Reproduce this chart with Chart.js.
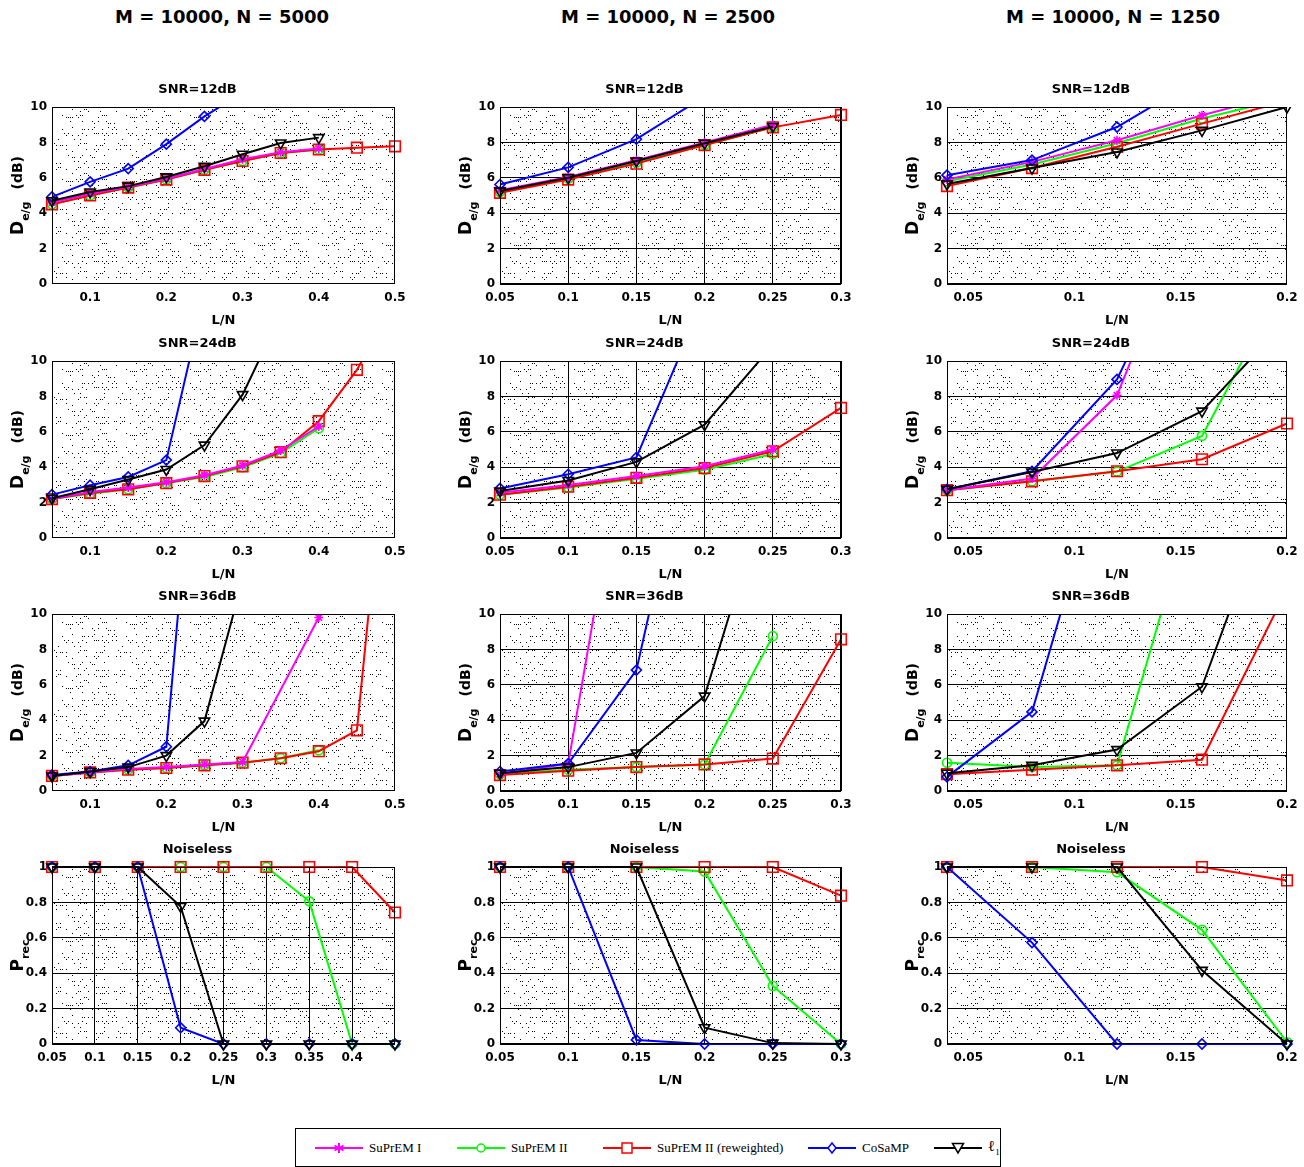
<!DOCTYPE html>
<html>
<head>
<meta charset="utf-8">
<script src="https://cdn.jsdelivr.net/npm/chart.js@4.4.0/dist/chart.umd.min.js"></script>
<style>
html, body { margin: 0; padding: 0; background: #fff; width: 1304px; height: 1167px; overflow: hidden; position: relative; }
canvas { position: absolute; }
.coltitle { position: absolute; top: 6px; width: 400px; text-align: center; font: bold 18px 'DejaVu Sans', sans-serif; line-height: 22px; }
#legend { position: absolute; left: 295px; top: 1128px; width: 704px; height: 37px; border: 1px solid #000; background: #fff; font: 13px 'Liberation Serif', serif; }
#legend .it { position: absolute; top: 0; height: 37px; display: flex; align-items: center; white-space: nowrap; }
#legend svg { margin-right: 6px; }
</style>
</head>
<body>
<div class="coltitle" style="left:22px">M = 10000, N = 5000</div>
<div class="coltitle" style="left:468px">M = 10000, N = 2500</div>
<div class="coltitle" style="left:913px">M = 10000, N = 1250</div>

<div id="legend">
  <div class="it" style="left:19px">
    <svg width="48" height="14"><line x1="0" y1="7" x2="48" y2="7" stroke="#ff00ff" stroke-width="2"/><path d="M24 2V12M19.5 4.5L28.5 9.5M19.5 9.5L28.5 4.5" stroke="#ff00ff" stroke-width="2"/></svg>
    <span>SuPrEM I</span></div>
  <div class="it" style="left:161px">
    <svg width="48" height="14"><line x1="0" y1="7" x2="48" y2="7" stroke="#00ff00" stroke-width="2"/><circle cx="24" cy="7" r="4" fill="#fff" stroke="#00ff00" stroke-width="1.5"/></svg>
    <span>SuPrEM II</span></div>
  <div class="it" style="left:307px">
    <svg width="48" height="14"><line x1="0" y1="7" x2="48" y2="7" stroke="#ff0000" stroke-width="2"/><rect x="19" y="2" width="10" height="10" fill="#fff" stroke="#ff0000" stroke-width="1.5"/></svg>
    <span>SuPrEM II (reweighted)</span></div>
  <div class="it" style="left:512px">
    <svg width="48" height="14"><line x1="0" y1="7" x2="48" y2="7" stroke="#0000ff" stroke-width="2"/><path d="M24 2L28 7L24 12L20 7Z" fill="#fff" stroke="#0000ff" stroke-width="1.5"/></svg>
    <span>CoSaMP</span></div>
  <div class="it" style="left:638px">
    <svg width="48" height="14"><line x1="0" y1="7" x2="48" y2="7" stroke="#000" stroke-width="2"/><path d="M18.5 2.5L29.5 2.5L24 12Z" fill="#fff" stroke="#000" stroke-width="1.5"/></svg>
    <span style="font-size:15px">&#8467;<sub style="font-size:9px">1</sub></span></div>
</div>

<script>
// x positions (L/N) for each column
const xCol1 = [0.05, 0.1, 0.15, 0.2, 0.25, 0.3, 0.35, 0.4, 0.45, 0.5];
const xCol1Noiseless = [0.05, 0.1, 0.15, 0.2, 0.25, 0.3, 0.35, 0.4, 0.45];
const xCol2 = [0.05, 0.1, 0.15, 0.2, 0.25, 0.3];
const xCol3 = [0.04, 0.08, 0.12, 0.16, 0.2];

// tick labels
const xTicksCol1 = [0.1, 0.2, 0.3, 0.4, 0.5];
const xTicksCol1Noiseless = [0.05, 0.1, 0.15, 0.2, 0.25, 0.3, 0.35, 0.4];
const xTicksCol2 = [0.05, 0.1, 0.15, 0.2, 0.25, 0.3];
const xTicksCol3 = [0.05, 0.1, 0.15, 0.2];
const yTicksDeg = [0, 2, 4, 6, 8, 10];
const yTicksPrec = [0, 0.2, 0.4, 0.6, 0.8, 1];

// N = 5000
const n5000_snr12 = {
  sup1:   [4.6, 5.1, 5.5, 5.95, 6.5, 7.05, 7.45, 7.65, null, null],
  sup2:   [4.5, 5.0, 5.45, 5.9, 6.45, 6.95, 7.4, 7.6, null, null],
  rw:     [4.5, 5.0, 5.45, 5.9, 6.45, 6.95, 7.4, 7.6, 7.7, 7.78],
  cosamp: [4.92, 5.77, 6.52, 7.9, 9.47, 10.8, null, null, null, null],
  l1:     [4.7, 5.2, 5.53, 6.05, 6.65, 7.33, 7.97, 8.27, null, null]
};
const n5000_snr24 = {
  sup1:   [2.2, 2.6, 2.85, 3.15, 3.55, 4.1, 4.95, 6.3, null, null],
  sup2:   [2.2, 2.5, 2.75, 3.1, 3.45, 4.0, 4.8, 6.2, null, null],
  rw:     [2.2, 2.55, 2.75, 3.1, 3.5, 4.05, 4.85, 6.6, 9.5, 13.3],
  cosamp: [2.45, 2.98, 3.45, 4.4, 13.7, null, null, null, null, null],
  l1:     [2.25, 2.75, 3.3, 3.87, 5.25, 8.1, 12.6, null, null, null]
};
const n5000_snr36 = {
  sup1:   [0.85, 1.05, 1.25, 1.35, 1.5, 1.64, null, 9.8, null, null],
  sup2:   [0.85, 1.05, 1.2, 1.3, 1.45, 1.6, 1.85, 2.3, null, null],
  rw:     [0.85, 1.05, 1.2, 1.3, 1.45, 1.6, 1.85, 2.25, 3.43, 25],
  cosamp: [0.9, 1.1, 1.45, 2.5, 27, null, null, null, null, null],
  l1:     [0.85, 1.1, 1.35, 2.0, 3.95, 11.9, null, null, null, null]
};
const n5000_noiseless = {
  sup1:   [],
  sup2:   [1, 1, 1, 1, 1, 1, 0.806, 0, 0],
  rw:     [1, 1, 1, 1, 1, 1, 1, 1, 0.743],
  cosamp: [1, 1, 1, 0.092, 0, 0, 0, 0, 0],
  l1:     [1, 1, 1, 0.777, 0, 0, 0, 0, 0]
};

// N = 2500
const n2500_snr12 = {
  sup1:   [5.3, 6.05, 7.0, 8.0, 9.0, null],
  sup2:   [5.2, 5.95, 6.85, 7.85, 8.85, null],
  rw:     [5.15, 5.9, 6.8, 7.85, 8.85, 9.55],
  cosamp: [5.62, 6.59, 8.18, 10.6, null, null],
  l1:     [5.25, 6.0, 6.95, 7.95, 8.9, null]
};
const n2500_snr24 = {
  sup1:   [2.55, 3.0, 3.5, 4.05, 5.0, null],
  sup2:   [2.45, 2.85, 3.35, 3.85, 4.75, null],
  rw:     [2.45, 2.9, 3.4, 3.95, 4.9, 7.35],
  cosamp: [2.8, 3.6, 4.55, 13.6, null, null],
  l1:     [2.65, 3.25, 4.3, 6.4, 10.9, null]
};
const n2500_snr36 = {
  sup1:   [0.95, 1.55, 23.8, null, null, null],
  sup2:   [0.95, 1.2, 1.35, 1.5, 8.75, null],
  rw:     [0.9, 1.15, 1.35, 1.5, 1.83, 8.57],
  cosamp: [1.1, 1.55, 6.83, 24, null, null],
  l1:     [1.0, 1.35, 2.15, 5.36, 18, null]
};
const n2500_noiseless = {
  sup1:   [],
  sup2:   [1, 1, 1, 0.975, 0.328, 0],
  rw:     [1, 1, 1, 1, 1, 0.838],
  cosamp: [1, 1, 0.023, 0, 0, 0],
  l1:     [1, 1, 1, 0.092, 0.005, 0]
};

// N = 1250
const n1250_snr12 = {
  sup1:   [5.9, 6.9, 8.12, 9.53, 10.8],
  sup2:   [5.8, 6.75, 7.95, 9.35, 10.5],
  rw:     [5.53, 6.55, 7.75, 9.06, 10.35],
  cosamp: [6.15, 7.0, 8.87, 11.7, null],
  l1:     [5.65, 6.55, 7.46, 8.68, 10.0]
};
const n1250_snr24 = {
  sup1:   [2.7, 3.36, 8.06, 20, null],
  sup2:   [2.7, 3.2, 3.75, 5.77, 14.7],
  rw:     [2.7, 3.2, 3.77, 4.45, 6.47],
  cosamp: [2.75, 3.77, 8.96, 19, null],
  l1:     [2.75, 3.73, 4.8, 7.17, 12.3]
};
const n1250_snr36 = {
  sup1:   [],
  sup2:   [1.6, 1.35, 1.45, 18, null],
  rw:     [0.95, 1.2, 1.45, 1.77, 11.4],
  cosamp: [0.8, 4.47, 21, null, null],
  l1:     [1.0, 1.45, 2.34, 5.89, 19]
};
const n1250_noiseless = {
  sup1:   [],
  sup2:   [1, 1, 0.97, 0.645, 0.01],
  rw:     [1, 1, 1, 1, 0.924],
  cosamp: [1, 0.573, 0, 0, 0],
  l1:     [1, 1, 1, 0.416, 0]
};

const series = [
  { key: 'sup1',   label: 'SuPrEM I',               color: '#ff00ff', style: 'star',     r: 4.5, rot: 0,   order: 3 },
  { key: 'sup2',   label: 'SuPrEM II',              color: '#00ff00', style: 'circle',   r: 4.5, rot: 0,   order: 5 },
  { key: 'rw',     label: 'SuPrEM II (reweighted)', color: '#ff0000', style: 'rect',     r: 7.5, rot: 0,   order: 4 },
  { key: 'cosamp', label: 'CoSaMP',                 color: '#0000ff', style: 'rectRot',  r: 5,   rot: 0,   order: 2 },
  { key: 'l1',     label: '\u2113\u2081',           color: '#000000', style: 'triangle', r: 6,   rot: 180, order: 1 }
];

const FONT = "'DejaVu Sans', sans-serif";

// stippled background tile, like the dotted axes of the original
const tile = document.createElement('canvas');
tile.width = 64; tile.height = 64;
(function () {
  const g = tile.getContext('2d');
  g.fillStyle = '#fff';
  g.fillRect(0, 0, 64, 64);
  g.fillStyle = '#000';
  let s = 7;
  const next = () => (s = (s * 1103515245 + 12345) % 2147483648) / 2147483648;
  for (let y = 2; y < 64; y += 6) {
    for (let x = 0; x < 64; x += 2) {
      if (next() < 0.33) g.fillRect(x, y + (next() < 0.5 ? 0 : 2), 1, 1);
    }
  }
})();

const framePlugin = {
  id: 'frame',
  beforeDraw(chart) {
    const { ctx, chartArea: a } = chart;
    ctx.save();
    ctx.fillStyle = ctx.createPattern(tile, 'repeat');
    ctx.fillRect(a.left, a.top, a.width, a.height);
    ctx.restore();
  },
  afterDraw(chart, args, opts) {
    const { ctx, chartArea: a } = chart;
    ctx.save();
    ctx.strokeStyle = '#000';
    ctx.lineWidth = 1;
    ctx.strokeRect(Math.round(a.left) + 0.5, Math.round(a.top) + 0.5, Math.round(a.width) - 1, Math.round(a.height) - 1);

    // y label with subscript
    const cy = (a.top + a.bottom) / 2;
    ctx.translate(a.left - 35, cy);
    ctx.rotate(-Math.PI / 2);
    ctx.fillStyle = '#000';
    ctx.textBaseline = 'alphabetic';
    ctx.textAlign = 'left';
    const mainFont = 'bold 17px ' + FONT, subFont = 'bold 11px ' + FONT, unitFont = 'bold 14px ' + FONT;
    ctx.font = mainFont; const wm = ctx.measureText(opts.main).width;
    ctx.font = subFont; const ws = ctx.measureText(opts.sub).width;
    ctx.font = unitFont; const wu = opts.unit ? ctx.measureText(opts.unit).width : 0;
    const gap = opts.unit ? 12 : 0;
    let x = -(wm + ws + gap + wu) / 2;
    ctx.font = mainFont; ctx.fillText(opts.main, x, 6); x += wm;
    ctx.font = subFont; ctx.fillText(opts.sub, x, 12); x += ws + gap;
    if (opts.unit) { ctx.font = unitFont; ctx.fillText(opts.unit, x, 5); }
    ctx.restore();
  }
};

const plotLeft = [52, 500, 947];
const plotWidth = [343, 341, 340];
const plotTop = [107, 361, 614, 867];
const plotHeight = 177;

const panels = [
  { row: 0, col: 0, title: 'SNR=12dB',  xs: xCol1, xMin: 0.05, xMax: 0.5,  xTicks: xTicksCol1, vals: n5000_snr12, gx: false, gy: false },
  { row: 0, col: 1, title: 'SNR=12dB',  xs: xCol2, xMin: 0.05, xMax: 0.3,  xTicks: xTicksCol2, vals: n2500_snr12, gx: true,  gy: true },
  { row: 0, col: 2, title: 'SNR=12dB',  xs: xCol3, xMin: 0.04, xMax: 0.2,  xTicks: xTicksCol3, vals: n1250_snr12, gx: false, gy: true },
  { row: 1, col: 0, title: 'SNR=24dB',  xs: xCol1, xMin: 0.05, xMax: 0.5,  xTicks: xTicksCol1, vals: n5000_snr24, gx: false, gy: false },
  { row: 1, col: 1, title: 'SNR=24dB',  xs: xCol2, xMin: 0.05, xMax: 0.3,  xTicks: xTicksCol2, vals: n2500_snr24, gx: true,  gy: true },
  { row: 1, col: 2, title: 'SNR=24dB',  xs: xCol3, xMin: 0.04, xMax: 0.2,  xTicks: xTicksCol3, vals: n1250_snr24, gx: false, gy: true },
  { row: 2, col: 0, title: 'SNR=36dB',  xs: xCol1, xMin: 0.05, xMax: 0.5,  xTicks: xTicksCol1, vals: n5000_snr36, gx: false, gy: false },
  { row: 2, col: 1, title: 'SNR=36dB',  xs: xCol2, xMin: 0.05, xMax: 0.3,  xTicks: xTicksCol2, vals: n2500_snr36, gx: true,  gy: true },
  { row: 2, col: 2, title: 'SNR=36dB',  xs: xCol3, xMin: 0.04, xMax: 0.2,  xTicks: xTicksCol3, vals: n1250_snr36, gx: false, gy: true },
  { row: 3, col: 0, title: 'Noiseless', xs: xCol1Noiseless, xMin: 0.05, xMax: 0.45, xTicks: xTicksCol1Noiseless, vals: n5000_noiseless, gx: true, gy: true },
  { row: 3, col: 1, title: 'Noiseless', xs: xCol2, xMin: 0.05, xMax: 0.3,  xTicks: xTicksCol2, vals: n2500_noiseless, gx: true,  gy: true },
  { row: 3, col: 2, title: 'Noiseless', xs: xCol3, xMin: 0.04, xMax: 0.2,  xTicks: xTicksCol3, vals: n1250_noiseless, gx: false, gy: true }
];

panels.forEach(p => {
  const prec = p.row === 3;
  const canvas = document.createElement('canvas');
  const w = plotWidth[p.col] + 104, h = 30 + plotHeight + 46;
  canvas.width = w; canvas.height = h;
  canvas.style.left = (plotLeft[p.col] - 52) + 'px';
  canvas.style.top = (plotTop[p.row] - 30) + 'px';
  canvas.style.width = w + 'px'; canvas.style.height = h + 'px';
  document.body.appendChild(canvas);

  const datasets = series.map(s => ({
    label: s.label,
    data: p.xs.map((x, i) => ({ x: x, y: p.vals[s.key][i] })).filter(d => d.y !== null && d.y !== undefined),
    borderColor: s.color,
    backgroundColor: s.color,
    borderWidth: 2,
    pointStyle: s.style,
    pointRadius: s.r,
    pointRotation: s.rot,
    pointBorderWidth: 1.6,
    pointBackgroundColor: 'rgba(0,0,0,0)',
    pointBorderColor: s.color,
    order: s.order,
    tension: 0,
    clip: prec ? false : { left: 8, right: 8, top: 0, bottom: 8 }
  }));

  const gridStyle = { color: '#000', lineWidth: 1, drawTicks: false };
  const tickFont = { family: FONT, size: 12, weight: 'bold' };

  new Chart(canvas.getContext('2d'), {
    type: 'line',
    data: { datasets: datasets },
    options: {
      responsive: false,
      animation: false,
      events: [],
      layout: { padding: { left: 0, right: 52, top: 0, bottom: 0 } },
      scales: {
        x: {
          type: 'linear',
          min: p.xMin, max: p.xMax,
          afterBuildTicks: sc => { sc.ticks = p.xTicks.map(v => ({ value: v })); },
          afterFit: sc => { sc.height = 46; },
          ticks: { color: '#000', font: tickFont, padding: 7, maxRotation: 0, autoSkip: false, callback: v => String(v) },
          grid: Object.assign({ display: p.gx }, gridStyle),
          border: { display: false },
          title: { display: true, text: 'L/N', color: '#000', font: { family: FONT, size: 13, weight: 'bold', lineHeight: 1.2 }, padding: { top: 0, bottom: 2 } }
        },
        y: {
          type: 'linear',
          min: 0, max: prec ? 1 : 10,
          afterBuildTicks: sc => { sc.ticks = (prec ? yTicksPrec : yTicksDeg).map(v => ({ value: v })); },
          afterFit: sc => { sc.width = 52; },
          ticks: { color: '#000', font: tickFont, padding: 5, autoSkip: false, callback: v => String(v) },
          grid: Object.assign({ display: p.gy }, gridStyle),
          border: { display: false }
        }
      },
      plugins: {
        legend: { display: false },
        tooltip: { enabled: false },
        title: {
          display: true, text: p.title, color: '#000',
          font: { family: FONT, size: 13, weight: 'bold', lineHeight: 1.2 },
          padding: { top: 5, bottom: 9.4 }
        },
        frame: prec ? { main: 'P', sub: 'rec', unit: '' } : { main: 'D', sub: 'e/g', unit: '(dB)' }
      }
    },
    plugins: [framePlugin]
  });
});
</script>
</body>
</html>
